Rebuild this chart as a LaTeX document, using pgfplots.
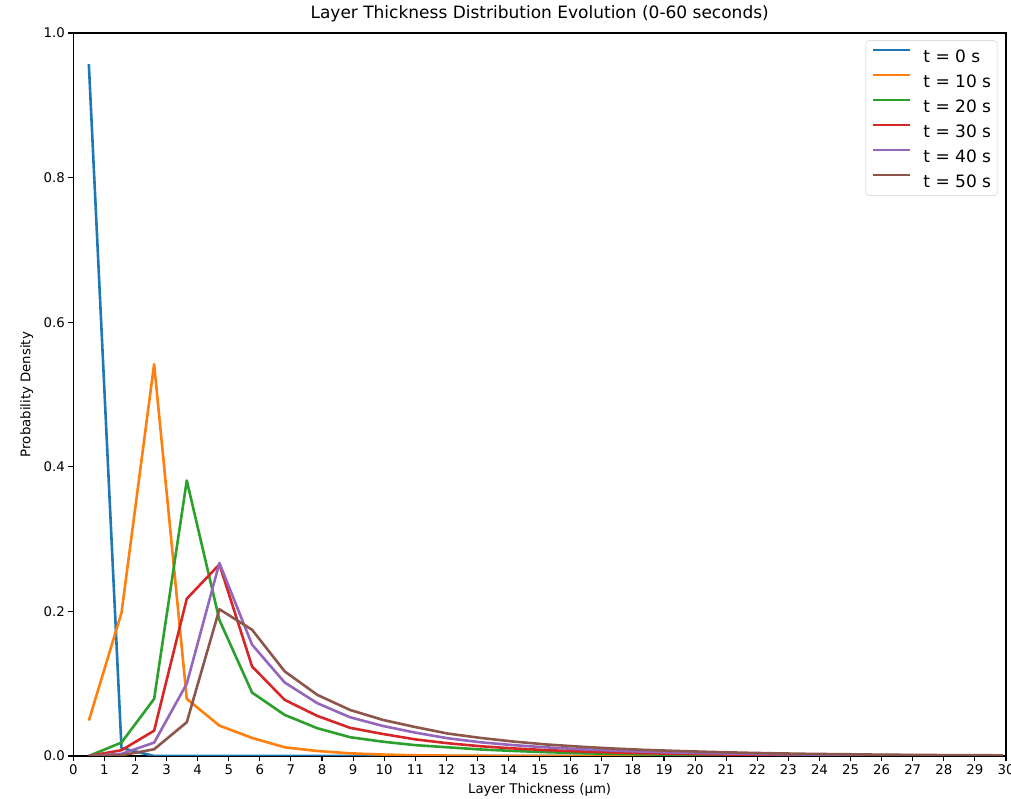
\documentclass[border=0pt]{standalone}
\usepackage{fontspec}
\setmainfont{DejaVu Sans}
\usepackage{pgfplots}
\usepackage{pgfplotstable}
\pgfplotsset{compat=1.18}
\definecolor{c0}{HTML}{1F77B4}
\definecolor{c1}{HTML}{FF7F0E}
\definecolor{c2}{HTML}{2CA02C}
\definecolor{c3}{HTML}{D62728}
\definecolor{c4}{HTML}{9467BD}
\definecolor{c5}{HTML}{8C564B}
\tikzset{ml/.style={line width=2.6pt, line join=round}}
\pgfplotstableread{
x t0 t10 t20 t30 t40 t50
0.5 0.957 0.049 0 0 0 0
1.55 0.011 0.198 0.0186 0.008 0.003 0.001
2.6 0 0.542 0.079 0.035 0.0185 0.0093
3.65 0 0.079 0.381 0.2175 0.100 0.0467
4.7 0 0.042 0.188 0.265 0.267 0.203
5.75 0 0.025 0.0877 0.1238 0.154 0.1746
6.8 0 0.012 0.0568 0.0776 0.1016 0.117
7.85 0 0.0069 0.0384 0.0554 0.073 0.0845
8.9 0 0.0037 0.026 0.039 0.0536 0.0637
9.95 0 0.002 0.0198 0.0305 0.0416 0.050
11.0 0 0.001 0.015 0.023 0.0323 0.040
12.05 0 0.0006 0.012 0.0176 0.0245 0.031
13.1 0 0.0003 0.009 0.0135 0.019 0.025
14.15 0 0.0002 0.007 0.0105 0.015 0.020
15.2 0 0.0001 0.0053 0.0082 0.012 0.016
16.25 0 0.0001 0.004 0.0064 0.0095 0.013
17.3 0 0 0.003 0.005 0.0076 0.0105
18.35 0 0 0.0023 0.0039 0.006 0.0085
19.4 0 0 0.0017 0.003 0.0048 0.007
20.45 0 0 0.0013 0.0024 0.0039 0.0057
21.5 0 0 0.001 0.0019 0.0031 0.0046
22.55 0 0 0.0008 0.0015 0.0025 0.0037
23.6 0 0 0.0006 0.0012 0.002 0.003
24.65 0 0 0.0004 0.0009 0.0016 0.0025
25.7 0 0 0.0003 0.0007 0.0013 0.002
26.75 0 0 0.0002 0.0006 0.001 0.0016
27.8 0 0 0.0002 0.0005 0.0008 0.0013
28.85 0 0 0.0001 0.0004 0.0007 0.0011
29.9 0 0 0.0001 0.0003 0.0005 0.0009
}\datatable
\begin{document}
\begin{tikzpicture}
\begin{axis}[
  scale only axis, width=932.7pt, height=723pt,
  xmin=0, xmax=30, ymin=0, ymax=1,
  xtick={0,1,...,30}, ytick={0,0.2,0.4,0.6,0.8,1.0},
  yticklabel style={/pgf/number format/.cd,fixed,fixed zerofill,precision=1},
  /pgf/number format/assume math mode=true,
  tick align=outside, tick pos=left, major tick length=4.9pt,
  every tick/.style={black, line width=1.1pt},
  axis line style={line width=1.1pt},
  ticklabel style={font=\fontsize{13.3}{15}\selectfont},
  title={Layer Thickness Distribution Evolution (0-60 seconds)},
  title style={font=\fontsize{17}{20}\selectfont, at={(axis description cs:0.5,1)}, anchor=base, yshift=8pt},
  xlabel={Layer Thickness (µm)},
  xlabel style={font=\fontsize{13.3}{16}\selectfont, at={(axis description cs:0.5,0)}, anchor=base, yshift=-38pt},
  ylabel={Probability Density},
  ylabel style={font=\fontsize{13.3}{16}\selectfont, at={([xshift=-43pt]axis description cs:0,0.5)}, anchor=base},
  legend style={at={(1,1)}, anchor=north east, xshift=-8.7pt, yshift=-7.5pt,
    draw=black!20, rounded corners=3pt, fill=white,
    font=\fontsize{17}{20}\selectfont, inner xsep=6pt, inner ysep=8pt,
    row sep=11pt, column sep=12pt,
    nodes={inner sep=0pt, text height=12.4pt, text depth=0pt}},
  legend cell align=left,
  legend image code/.code={\draw[#1] (0pt,6.5pt) -- (37pt,6.5pt);},
]
\addplot[c0, ml] table[x=x,y=t0]{\datatable}; \addlegendentry{t = 0 s}
\addplot[c1, ml] table[x=x,y=t10]{\datatable}; \addlegendentry{t = 10 s}
\addplot[c2, ml] table[x=x,y=t20]{\datatable}; \addlegendentry{t = 20 s}
\addplot[c3, ml] table[x=x,y=t30]{\datatable}; \addlegendentry{t = 30 s}
\addplot[c4, ml] table[x=x,y=t40]{\datatable}; \addlegendentry{t = 40 s}
\addplot[c5, ml] table[x=x,y=t50]{\datatable}; \addlegendentry{t = 50 s}
\end{axis}
\pgfresetboundingbox
\useasboundingbox (-73.3pt,-43pt) rectangle (937.7pt,756pt);
\end{tikzpicture}
\end{document}
